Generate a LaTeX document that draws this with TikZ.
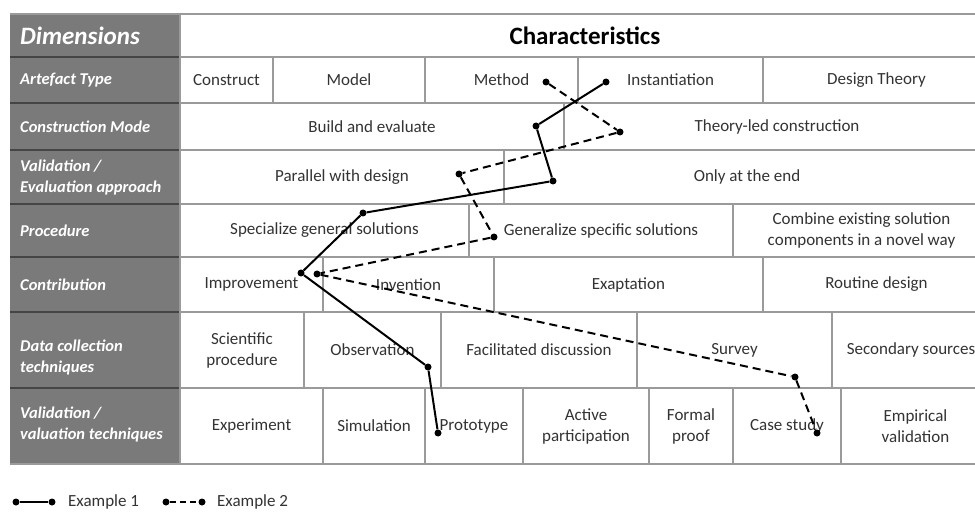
\documentclass[tikz,border=0pt]{standalone}
\usepackage{fontspec}
\setmainfont{Carlito}
\definecolor{dimgray}{HTML}{7A7A7A}
\definecolor{gridgray}{HTML}{9A9A9A}
\definecolor{sepdark}{HTML}{454545}
\definecolor{txtgray}{HTML}{333333}
\newcommand\cellbox[6]{%
  \draw[gridline] (#2,#4) rectangle (#3,#5);
  \node[celltext] (#1) at ({(#2+#3)/2},{(#4+#5)/2}) {#6};}
\begin{document}
\begin{tikzpicture}[x=1pt,y=-1pt,
  gridline/.style={draw=gridgray, line width=1.4pt},
  celltext/.style={font=\fontsize{17}{21}\selectfont, text=txtgray, align=center, inner sep=0pt},
  dimtext/.style={font=\fontsize{16.5}{21}\selectfont\bfseries\itshape, text=white, anchor=west, align=left, inner sep=0pt},
  dot/.style={circle, fill=black, inner sep=0pt, minimum size=7pt},
  exone/.style={line width=2pt, draw=black},
  extwo/.style={line width=2pt, draw=black, dash pattern=on 8pt off 5pt},
  legtext/.style={font=\fontsize{17}{21}\selectfont, text=txtgray, anchor=west, inner sep=0pt}]
\useasboundingbox (0,0) rectangle (975,513);
\clip (0,0) rectangle (975,513);
\fill[white] (0,0) rectangle (975,513);
% left column
\fill[dimgray] (10,14) rectangle (180,464);
\foreach \yy in {57,103,150,204,257,312,388}
  \draw[sepdark, line width=1.6pt] (10,\yy) -- (180,\yy);
% header
\cellbox{hdr}{180}{990}{14}{57}{\fontsize{25}{30}\selectfont\bfseries\color{black}Characteristics}
\node[dimtext, font=\fontsize{25}{30}\selectfont\bfseries\itshape] (dimh) at (20,36) {Dimensions};
% labels
\node[dimtext] (la) at (20,80) {Artefact Type};
\node[dimtext] (lb) at (20,127) {Construction Mode};
\node[dimtext] (lc) at (20,178) {Validation /\\Evaluation approach};
\node[dimtext] (ld) at (20,231) {Procedure};
\node[dimtext] (le) at (20,285) {Contribution};
\node[dimtext] (lf) at (20,358) {Data collection\\techniques};
\node[dimtext] (lg) at (20,425) {Validation /\\valuation techniques};
% row A
\cellbox{a1}{180}{273}{57}{103}{Construct}
\cellbox{a2}{273}{425}{57}{103}{Model}
\cellbox{a3}{425}{578}{57}{103}{Method}
\cellbox{a4}{578}{763}{57}{103}{Instantiation}
\cellbox{a5}{763}{990}{57}{103}{Design Theory}
% row B
\cellbox{b1}{180}{564}{103}{150}{Build and evaluate}
\cellbox{b2}{564}{990}{103}{150}{Theory-led construction}
% row C
\cellbox{c1}{180}{504}{150}{204}{Parallel with design}
\cellbox{c2}{504}{990}{150}{204}{Only at the end}
% row D
\cellbox{d1}{180}{469}{204}{257}{Specialize general solutions}
\cellbox{d2}{469}{733}{204}{257}{Generalize specific solutions}
\cellbox{d3}{733}{990}{204}{257}{Combine existing solution\\components in a novel way}
% row E
\cellbox{e1}{180}{323}{257}{312}{Improvement}
\cellbox{e2}{323}{494}{257}{312}{Invention}
\cellbox{e3}{494}{763}{257}{312}{Exaptation}
\cellbox{e4}{763}{990}{257}{312}{Routine design}
% row F
\cellbox{f1}{180}{304}{312}{388}{Scientific\\procedure}
\cellbox{f2}{304}{441}{312}{388}{Observation}
\cellbox{f3}{441}{637}{312}{388}{Facilitated discussion}
\cellbox{f4}{637}{832}{312}{388}{Survey}
\cellbox{f5}{832}{990}{312}{388}{Secondary sources}
% row G
\cellbox{g1}{180}{323}{388}{464}{Experiment}
\cellbox{g2}{323}{425}{388}{464}{Simulation}
\cellbox{g3}{425}{523}{388}{464}{Prototype}
\cellbox{g4}{523}{649}{388}{464}{Active\\participation}
\cellbox{g5}{649}{733}{388}{464}{Formal\\proof}
\cellbox{g6}{733}{841}{388}{464}{Case study}
\cellbox{g7}{841}{990}{388}{464}{Empirical\\validation}
% outer borders
\draw[gridgray, line width=2pt] (10,14) -- (990,14);
\draw[gridgray, line width=2pt] (10,464) -- (990,464);
% Example 1
\node[dot] (s1) at (606,82) {};
\node[dot] (s2) at (536,126) {};
\node[dot] (s3) at (553,181) {};
\node[dot] (s4) at (363,213) {};
\node[dot] (s5) at (301,273) {};
\node[dot] (s6) at (428,367) {};
\node[dot] (s7) at (438,433) {};
\draw[exone] (s1) -- (s2) -- (s3) -- (s4) -- (s5) -- (s6) -- (s7);
% Example 2
\node[dot] (t1) at (546,82) {};
\node[dot] (t2) at (620,132) {};
\node[dot] (t3) at (459,174) {};
\node[dot] (t4) at (494,237) {};
\node[dot] (t5) at (317,274) {};
\node[dot] (t6) at (795,377) {};
\node[dot] (t7) at (817,433) {};
\draw[extwo] (t1) -- (t2) -- (t3) -- (t4) -- (t5) -- (t6) -- (t7);
% legend
\node[dot] (l1a) at (16,502) {};
\node[dot] (l1b) at (52,502) {};
\draw[exone] (l1a) -- (l1b);
\node[legtext] (lt1) at (68,502) {Example 1};
\node[dot] (l2a) at (166,502) {};
\node[dot] (l2b) at (202,502) {};
\draw[line width=2pt, dash pattern=on 6pt off 4pt] (l2a) -- (l2b);
\node[legtext] (lt2) at (217,502) {Example 2};
\end{tikzpicture}
\end{document}
